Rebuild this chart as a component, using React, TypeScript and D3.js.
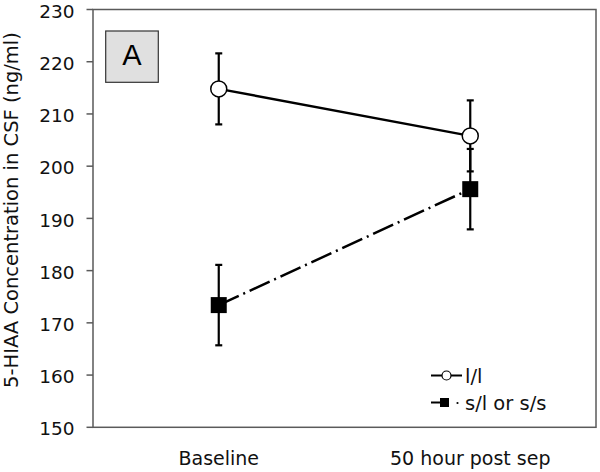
import React from "react";
import * as d3 from "d3";

const categories = ["Baseline", "50 hour post sep"];
const seriesNames = ["l/l", "s/l or s/s"];
const llMeans = [214.8, 205.8];
const llErr = [6.8, 6.8];
const ssMeans = [173.4, 195.6];
const ssErr = [7.7, 7.7];
const yTicks = [150, 160, 170, 180, 190, 200, 210, 220, 230];
const yTitle = "5-HIAA Concentration in CSF (ng/ml)";
const panelLabel = "A";

const W = 600, H = 472;
const M = { left: 93, right: 596, top: 9.5, bottom: 427.3 };
const FONT = "DejaVu Sans, Verdana, sans-serif";

export default function App() {
  const x = d3.scaleBand<string>().domain(categories).range([M.left, M.right]);
  const y = d3.scaleLinear().domain([150, 230]).range([M.bottom, M.top]);
  const cx = (c: string) => (x(c) as number) + x.bandwidth() / 2;
  const line = d3.line<[number, number]>().x(d => d[0]).y(d => d[1]);
  const llPts: [number, number][] = categories.map((c, i) => [cx(c), y(llMeans[i])]);
  const ssPts: [number, number][] = categories.map((c, i) => [cx(c), y(ssMeans[i])]);
  const axisColor = "#5a5a5a";
  const capW = 3.5;

  const errBars = (means: number[], errs: number[], key: string) =>
    categories.map((c, i) => {
      const X = cx(c);
      const y1 = y(means[i] + errs[i]);
      const y2 = y(means[i] - errs[i]);
      return (
        <g key={key + i} stroke="#000" strokeWidth={2.2}>
          <line x1={X} x2={X} y1={y1} y2={y2} />
          <line x1={X - capW} x2={X + capW} y1={y1} y2={y1} />
          <line x1={X - capW} x2={X + capW} y1={y2} y2={y2} />
        </g>
      );
    });

  return (
    <svg width={W} height={H} style={{ position: "absolute", left: 0, top: 0, background: "#fff" }}>
      <rect x={0} y={0} width={W} height={H} fill="#fff" />
      {/* frame */}
      <rect x={M.left} y={M.top} width={M.right - M.left} height={M.bottom - M.top}
        fill="none" stroke={axisColor} strokeWidth={1.5} />
      {/* y ticks */}
      {yTicks.map(t => (
        <g key={t}>
          <line x1={M.left - 6.5} x2={M.left} y1={y(t)} y2={y(t)} stroke={axisColor} strokeWidth={1.5} />
          <text x={74.5} y={y(t)} dy="0.44em" textAnchor="end" fontFamily={FONT} fontSize={18.5} fill="#111">{t}</text>
        </g>
      ))}
      {/* x labels */}
      {categories.map(c => (
        <text key={c} x={cx(c)} y={465} textAnchor="middle" fontFamily={FONT} fontSize={19} fill="#111">{c}</text>
      ))}
      {/* y title */}
      <text transform={`translate(17.5,210) rotate(-90)`} textAnchor="middle"
        fontFamily={FONT} fontSize={19.5} fill="#111">{yTitle}</text>
      {/* panel label */}
      <rect x={105.7} y={31} width={52.6} height={51.3} fill="#e0e0e0" stroke="#333" strokeWidth={1.2} />
      <text x={132} y={65} textAnchor="middle" fontFamily="Liberation Sans, Arial, sans-serif" fontSize={29} fill="#000">{panelLabel}</text>
      {/* series lines */}
      <path d={line(ssPts) as string} fill="none" stroke="#000" strokeWidth={2.5} strokeDasharray="22,5,2,5" />
      <path d={line(llPts) as string} fill="none" stroke="#000" strokeWidth={2.5} />
      {errBars(llMeans, llErr, "ll")}
      {errBars(ssMeans, ssErr, "ss")}
      {ssPts.map((p, i) => (
        <rect key={"s" + i} x={p[0] - 8} y={p[1] - 8} width={16} height={16} fill="#000" />
      ))}
      {llPts.map((p, i) => (
        <circle key={"c" + i} cx={p[0]} cy={p[1]} r={8} fill="#fff" stroke="#000" strokeWidth={1.5} />
      ))}
      {/* legend */}
      <g>
        <line x1={431} x2={462} y1={375.5} y2={375.5} stroke="#000" strokeWidth={2} />
        <circle cx={446.5} cy={375.5} r={4.5} fill="#fff" stroke="#000" strokeWidth={1.2} />
        <text x={465} y={375.5} dy="0.36em" fontFamily={FONT} fontSize={19.5} fill="#111">{seriesNames[0]}</text>
        <line x1={431} x2={446} y1={402.5} y2={402.5} stroke="#000" strokeWidth={2} />
        <rect x={440} y={398} width={9} height={9} fill="#000" />
        <circle cx={457.5} cy={403} r={1.1} fill="#000" />
        <text x={465} y={402.5} dy="0.36em" fontFamily={FONT} fontSize={19.5} fill="#111">{seriesNames[1]}</text>
      </g>
    </svg>
  );
}
